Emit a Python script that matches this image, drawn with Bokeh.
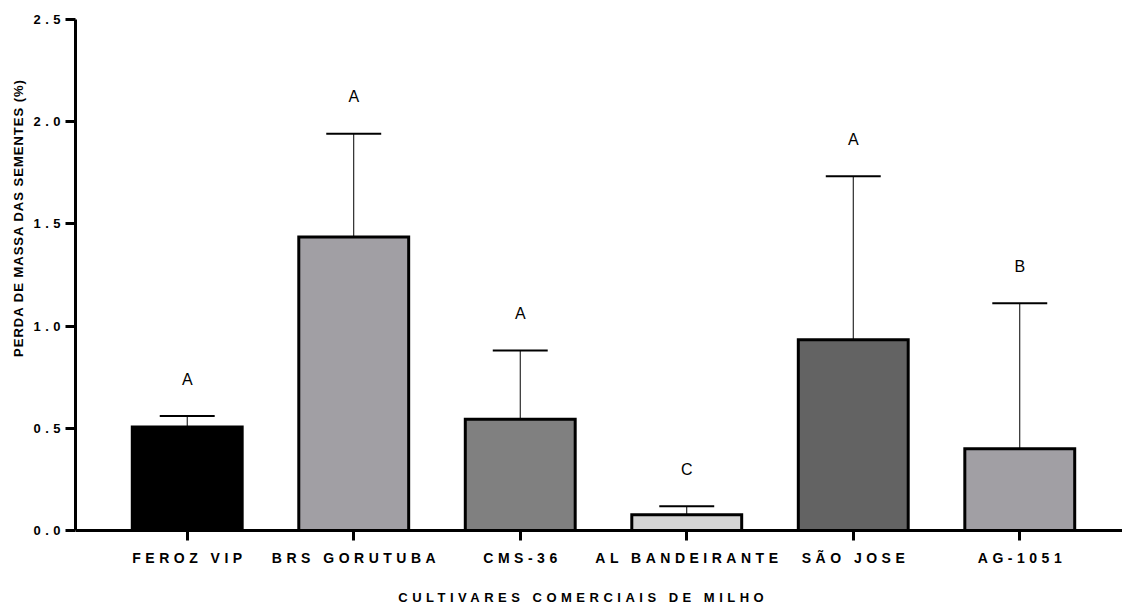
from bokeh.plotting import figure
from bokeh.models import (FixedTicker, Range1d, Label, Div, InlineStyleSheet,
                          NumeralTickFormatter)
from bokeh.layouts import row
from bokeh.embed import file_html
from bokeh.resources import INLINE
from bokeh.core.properties import value

# ---- data ----
cultivars = ["FEROZ VIP", "BRS GORUTUBA", "CMS-36", "AL BANDEIRANTE", "SÃO JOSE", "AG-1051"]
means = [0.506, 1.436, 0.544, 0.077, 0.933, 0.400]
sds = [0.054, 0.505, 0.337, 0.042, 0.800, 0.712]
letters = ["A", "A", "A", "C", "A", "B"]
y_ticks = [0.0, 0.5, 1.0, 1.5, 2.0, 2.5]
x_title = "CULTIVARES COMERCIAIS DE MILHO"
y_title = "PERDA DE MASSA DAS SEMENTES (%)"

# ---- styles ----
colors = ["#000000", "#a19fa4", "#808080", "#d4d4d4", "#636363", "#a19fa4"]
FONT = "Liberation Sans"
SPACING = 4.5  # letter spacing (px) applied to all figure text via CSS

xs = list(range(len(cultivars)))
tops = [m + s for m, s in zip(means, sds)]
cap = 0.165

W, H = 1092, 610
# the y range extends below 0 so that the category labels and the
# x title (drawn as labels) lie inside the frame; the x axis sits at y=0
p = figure(width=W, height=H, output_backend="svg", toolbar_location=None,
           x_range=Range1d(-0.671, 5.617), y_range=Range1d(-0.3914, 2.5),
           min_border_left=45, min_border_right=0, min_border_top=19,
           min_border_bottom=0, background_fill_color="white",
           border_fill_color="white")
p.stylesheets = [InlineStyleSheet(css=":host { letter-spacing: %spx; }" % SPACING)]
p.outline_line_color = None
p.xgrid.visible = False
p.ygrid.visible = False

p.segment(x0=xs, y0=means, x1=xs, y1=tops, line_color="black", line_width=1)
p.segment(x0=[x - cap for x in xs], y0=tops, x1=[x + cap for x in xs], y1=tops,
          line_color="black", line_width=2)
p.vbar(x=xs, top=means, bottom=0, width=0.66, fill_color=colors,
       line_color="black", line_width=3, line_join="miter")
p.text(x=xs, y=tops, text=letters, y_offset=-37, text_align="center",
       text_baseline="middle", text_font=value(FONT), text_font_size="16px",
       text_color="black")

for ax in (p.xaxis[0], p.yaxis[0]):
    ax.axis_line_width = 3
    ax.axis_line_color = "black"
    ax.major_tick_line_width = 3
    ax.major_tick_line_color = "black"
    ax.major_tick_out = 10
    ax.major_tick_in = 0
    ax.minor_tick_line_color = None
    ax.major_label_text_font = FONT
    ax.major_label_text_font_style = "bold"
    ax.major_label_text_color = "black"

p.yaxis.ticker = FixedTicker(ticks=y_ticks)
p.yaxis.bounds = (0, 2.5)
p.yaxis.formatter = NumeralTickFormatter(format="0.0")
p.yaxis.major_label_text_font_size = "13px"
p.yaxis.major_label_standoff = 14

p.xaxis.ticker = FixedTicker(ticks=xs)
p.xaxis.fixed_location = 0
p.xaxis.major_label_text_color = None   # category names drawn as labels below

# axis title (centre offset compensates the CSS letter spacing)
p.add_layout(Label(x=505.5 - (len(x_title) - 1) * SPACING / 2, y=13,
                   x_units="screen", y_units="screen", text=x_title,
                   text_align="center", text_baseline="middle",
                   text_font=FONT, text_font_size="13px", text_font_style="bold",
                   text_color="black"))

# category labels
for i, name in zip(xs, cultivars):
    p.add_layout(Label(x=i, y=53, x_units="data", y_units="screen", text=name,
                       x_offset=-(len(name) - 1) * SPACING / 2,
                       text_align="center", text_baseline="middle",
                       text_font=FONT, text_font_size="14px",
                       text_font_style="bold", text_color="black"))

ytitle_html = (
    '<div style="position:relative;width:30px;height:610px;">'
    '<div style="position:absolute;left:18.5px;top:218px;'
    'transform:translate(-50%%,-50%%) rotate(-90deg);white-space:nowrap;'
    "font-family:'Liberation Sans';font-weight:bold;font-size:13px;"
    'letter-spacing:1px;color:#000;">%s</div></div>' % y_title
)
ydiv = Div(text=ytitle_html, width=30, height=H, margin=0)

layout = row(ydiv, p)
open("out.html", "w").write(file_html(layout, INLINE))
